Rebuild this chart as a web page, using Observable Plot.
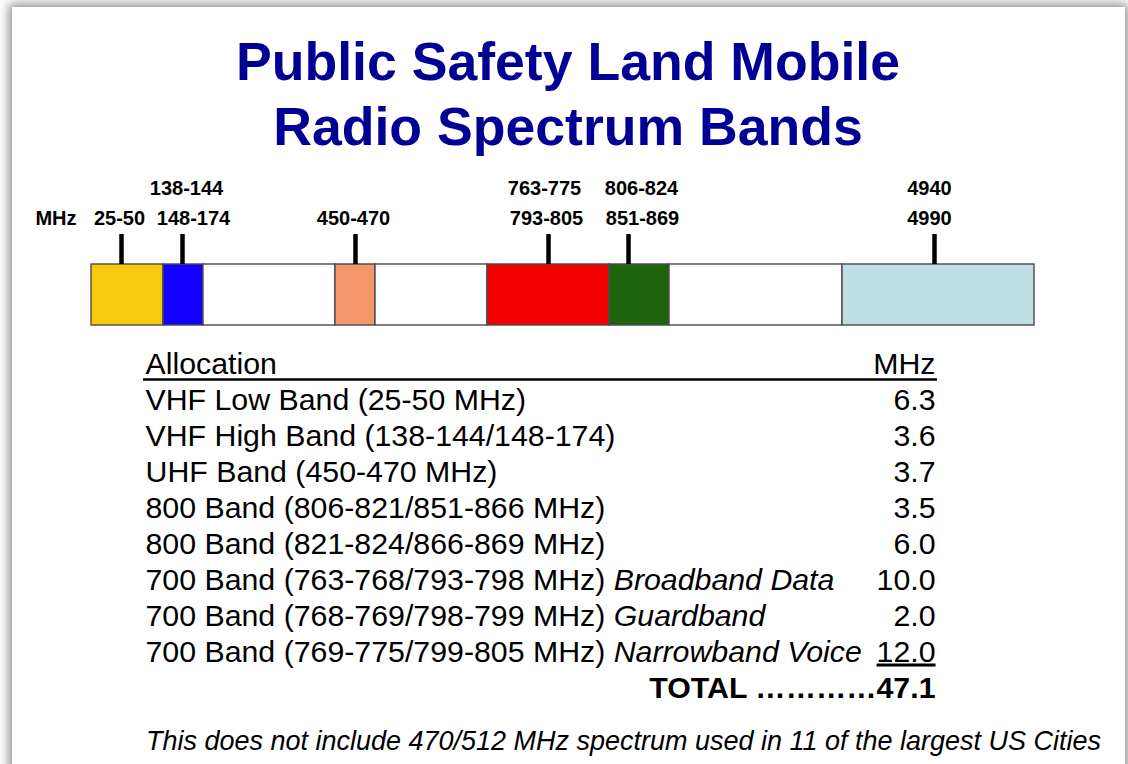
<!DOCTYPE html>
<html>
<head>
<meta charset="utf-8">
<script src="https://cdn.jsdelivr.net/npm/d3@7"></script>
<script src="https://cdn.jsdelivr.net/npm/@observablehq/plot@0.6"></script>
<style>
  html, body { margin: 0; padding: 0; background: #fff; width: 1128px; height: 764px; overflow: hidden; position: relative; font-family: "Liberation Sans", Arial, sans-serif; }
  #slide { position: absolute; left: 12px; top: 7px; width: 1113px; height: 820px; background: #fff; box-shadow: 0 0 10px 3px rgba(0,0,0,0.45); z-index: 0; }
  #content { position: relative; z-index: 1; }
  h1 { margin: 0; padding: 29px 0 0 8px; height: 160px; box-sizing: border-box; text-align: center; font-size: 53.6px; line-height: 65px; font-weight: bold; color: #000094; width: 1128px; }
  svg { display: block; }
  #note { margin: 1px 0 0 146px; font-size: 28px; line-height: 40px; height: 40px; white-space: nowrap; }
  #note span { display: inline-block; font-style: italic; font-family: "Liberation Sans Narrow", "Arial Narrow", "Liberation Sans", Arial, sans-serif; transform-origin: 0 50%; }
</style>
</head>
<body>
<div id="slide"></div>
<div id="content">
  <h1>Public Safety Land Mobile<br>Radio Spectrum Bands</h1>
  <div id="strip"></div>
  <div id="table"></div>
  <div id="note"><span>This does not include 470/512 MHz spectrum used in 11 of the largest US Cities</span></div>
</div>
<script>
// ---- Spectrum strip (schematic positions) ----
const segmentStart = [0, 72, 112, 244, 284, 396, 518, 578, 751];
const segmentEnd   = [72, 112, 244, 284, 396, 518, 578, 751, 943];
const segmentFill  = ["#F9C90E", "#1400FF", "#FFFFFF", "#F4976A", "#FFFFFF", "#F20000", "#1E640F", "#FFFFFF", "#BEDFE2"];

const tickPos = [30, 91, 264, 457, 537, 843];

const upperLabels   = ["138-144", "763-775", "806-824", "4940"];
const upperLabelPos = [95, 453, 550, 838];
const lowerLabels   = ["25-50", "148-174", "450-470", "793-805", "851-869", "4990"];
const lowerLabelPos = [28, 102, 262, 455, 551, 838];
const unitLabel = "MHz";

// ---- Allocation table ----
const headerLeft = "Allocation";
const headerRight = "MHz";
const allocations = [
  "VHF Low Band (25-50 MHz)",
  "VHF High Band (138-144/148-174)",
  "UHF Band (450-470 MHz)",
  "800 Band (806-821/851-866 MHz)",
  "800 Band (821-824/866-869 MHz)",
  "700 Band (763-768/793-798 MHz)",
  "700 Band (768-769/798-799 MHz)",
  "700 Band (769-775/799-805 MHz)"
];
const notes = ["", "", "", "", "", "Broadband Data", "Guardband", "Narrowband Voice"];
const mhz = [6.3, 3.6, 3.7, 3.5, 6.0, 10.0, 2.0, 12.0];
const totalLabel = "TOTAL …………";
const totalValue = 47.1;

const FONT = "'Liberation Sans', Arial, sans-serif";
const TABLE_FS = 30.3;

const segments = segmentStart.map((s, i) => ({x1: s, x2: segmentEnd[i], fill: segmentFill[i]}));
const ticks = tickPos.map(x => ({x}));
const upper = upperLabels.map((t, i) => ({t, x: upperLabelPos[i]}));
const lower = lowerLabels.map((t, i) => ({t, x: lowerLabelPos[i]}));

const strip = Plot.plot({
  width: 1128, height: 175,
  marginTop: 104, marginBottom: 10, marginLeft: 91, marginRight: 94,
  x: {domain: [0, 943], axis: null},
  color: {type: "identity"},
  style: {fontFamily: FONT, background: "transparent", overflow: "visible"},
  marks: [
    Plot.rect(segments, {x1: "x1", x2: "x2", fill: "fill", stroke: "#4a4a4a", strokeWidth: 1.4}),
    Plot.ruleX(ticks, {x: "x", stroke: "#000", strokeWidth: 4.5, insetTop: -30, insetBottom: 61}),
    Plot.text(upper, {x: "x", text: "t", frameAnchor: "top", lineAnchor: "bottom", dy: -70, fontSize: 20, fontWeight: "bold", fill: "#000"}),
    Plot.text(lower, {x: "x", text: "t", frameAnchor: "top", lineAnchor: "bottom", dy: -40, fontSize: 20, fontWeight: "bold", fill: "#000"}),
    Plot.text([unitLabel], {text: d => d, frameAnchor: "top-left", textAnchor: "end", lineAnchor: "bottom", dx: -15, dy: -40, fontSize: 20, fontWeight: "bold", fill: "#000"})
  ]
});
document.getElementById("strip").appendChild(strip);

const rows = allocations.map((a, i) => ({i: i + 1, label: a, note: notes[i], v: mhz[i]}));

const table = Plot.plot({
  width: 1128, height: 385,
  marginTop: 34, marginBottom: 20, marginLeft: 145, marginRight: 193,
  y: {type: "point", domain: d3.range(10), padding: 0, axis: null},
  style: {fontFamily: FONT, background: "transparent", overflow: "visible"},
  marks: [
    Plot.text([0], {y: d => d, text: () => headerLeft, frameAnchor: "left", textAnchor: "start", lineAnchor: "bottom", fontSize: TABLE_FS, fill: "#000"}),
    Plot.text([0], {y: d => d, text: () => headerRight, frameAnchor: "right", textAnchor: "end", lineAnchor: "bottom", fontSize: TABLE_FS, fill: "#000"}),
    Plot.ruleY([0], {y: d => d, dy: 6, stroke: "#000", strokeWidth: 2.5, insetLeft: -2, insetRight: -2}),
    Plot.text(rows, {y: "i", text: "label", frameAnchor: "left", textAnchor: "start", lineAnchor: "bottom", fontSize: TABLE_FS, fill: "#000"}),
    Plot.text(rows, {y: "i", text: d => d.v.toFixed(1), frameAnchor: "right", textAnchor: "end", lineAnchor: "bottom", fontSize: TABLE_FS, fill: "#000"}),
    Plot.text([9], {y: d => d, text: () => totalLabel + totalValue.toFixed(1), frameAnchor: "right", textAnchor: "end", lineAnchor: "bottom", fontSize: TABLE_FS, fontWeight: "bold", fill: "#000"})
  ]
});
document.getElementById("table").appendChild(table);

// italic notes appended to the allocation labels; underline the last value
const lastValue = mhz[mhz.length - 1].toFixed(1);
table.querySelectorAll("text").forEach(el => {
  const k = allocations.indexOf(el.textContent);
  if (k >= 0 && notes[k]) {
    const ts = document.createElementNS("http://www.w3.org/2000/svg", "tspan");
    ts.setAttribute("font-style", "italic");
    ts.textContent = " " + notes[k];
    el.appendChild(ts);
  }
  if (el.textContent === lastValue) el.style.textDecoration = "underline";
});

// fit the condensed footnote to its width in the picture
const span = document.querySelector("#note span");
const w = span.getBoundingClientRect().width;
span.style.transform = `scaleX(${955 / w})`;
</script>
</body>
</html>
